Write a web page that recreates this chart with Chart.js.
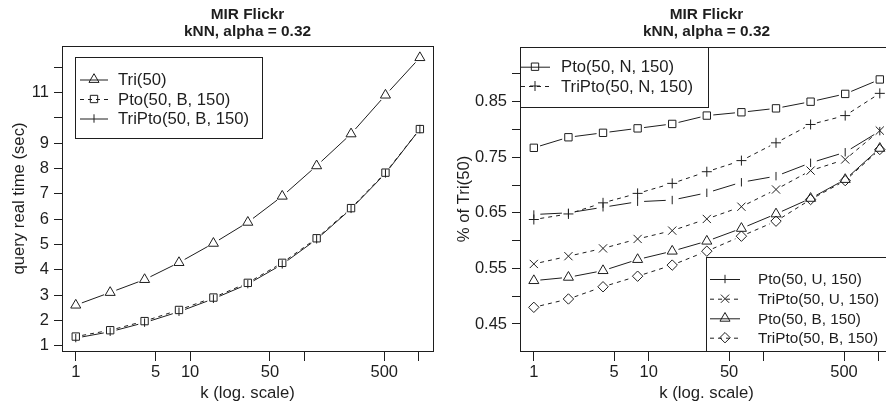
<!DOCTYPE html>
<html>
<head>
<meta charset="utf-8">
<script src="https://cdn.jsdelivr.net/npm/chart.js@4/dist/chart.umd.min.js"></script>
<style>
  html, body { margin: 0; padding: 0; background: #fff; overflow: hidden; width: 886px; height: 406px; }
  #leftPanel { position: absolute; left: 0; top: 0; width: 443px; height: 406px; }
  #rightPanel { position: absolute; left: 443px; top: 0; width: 480px; height: 406px; }
  canvas { display: block; }
</style>
</head>
<body>
<div id="leftPanel"><canvas id="timeChart" width="443" height="406"></canvas></div>
<div id="rightPanel"><canvas id="ratioChart" width="480" height="406"></canvas></div>
<script>
// ---- shared ----
const kValues = [1, 2, 4, 8, 16, 32, 64, 128, 256, 512, 1024];
const xTickValues = [1, 5, 10, 50, 100, 500, 1000];
const xTickLabels = ['1', '5', '10', '50', '', '500', ''];
const titleLines = ['MIR Flickr', 'kNN, alpha = 0.32'];
const xAxisTitle = 'k (log. scale)';

// ---- left panel: query time in seconds ----
const leftYAxisTitle = 'query real time (sec)';
const tri50Time = [2.60, 3.10, 3.61, 4.28, 5.04, 5.87, 6.90, 8.10, 9.36, 10.89, 12.37];
const ptoBTime = [1.36, 1.61, 1.97, 2.41, 2.90, 3.48, 4.27, 5.24, 6.43, 7.83, 9.55];
const triPtoBTime = [1.30, 1.55, 1.91, 2.34, 2.85, 3.43, 4.21, 5.20, 6.40, 7.80, 9.55];
const leftYTickValues = [1, 2, 3, 4, 5, 6, 7, 8, 9, 10, 11, 12];
const leftYTickLabels = ['1', '2', '3', '4', '5', '6', '7', '8', '9', '', '11', ''];

// ---- right panel: fraction of Tri(50) time ----
const rightYAxisTitle = '% of Tri(50)';
const ptoNRatio = [0.767, 0.786, 0.794, 0.802, 0.810, 0.825, 0.831, 0.838, 0.850, 0.864, 0.890];
const triPtoNRatio = [0.638, 0.648, 0.668, 0.685, 0.703, 0.724, 0.744, 0.776, 0.809, 0.825, 0.865];
const ptoURatio = [0.647, 0.650, 0.660, 0.670, 0.673, 0.686, 0.705, 0.716, 0.740, 0.759, 0.797];
const triPtoURatio = [0.558, 0.572, 0.586, 0.603, 0.618, 0.639, 0.661, 0.692, 0.726, 0.746, 0.798];
const ptoBRatio = [0.528, 0.534, 0.546, 0.566, 0.581, 0.599, 0.622, 0.648, 0.676, 0.710, 0.766];
const triPtoBRatio = [0.480, 0.495, 0.517, 0.536, 0.556, 0.581, 0.608, 0.635, 0.674, 0.708, 0.764];
const rightYTickValues = [0.45, 0.50, 0.55, 0.60, 0.65, 0.70, 0.75, 0.80, 0.85, 0.90];
const rightYTickLabels = ['0.45', '', '0.55', '', '0.65', '', '0.75', '', '0.85', ''];

const INK = '#1e1e1e';
const FONT = "'Liberation Sans', Arial, Helvetica, sans-serif";
const DASH = [4, 4];

// marker look for each series
const MARK = {
  triangle: { pointStyle: 'triangle', radius: 5.8, rotation: 0 },
  square:   { pointStyle: 'rect', radius: 5.2, rotation: 0 },
  plus:     { pointStyle: 'cross', radius: 5, rotation: 0 },
  bar:      { pointStyle: 'line', radius: 4.2, rotation: 90 },
  cross:    { pointStyle: 'crossRot', radius: 5.8, rotation: 0 },
  diamond:  { pointStyle: 'rectRot', radius: 5.2, rotation: 0 }
};

function series(label, values, mark, dashed) {
  const m = MARK[mark];
  return {
    label,
    data: kValues.map((k, i) => ({ x: k, y: values[i] })),
    showLine: false,
    borderColor: INK,
    backgroundColor: 'rgba(0,0,0,0)',
    pointStyle: m.pointStyle,
    pointRadius: m.radius,
    pointRotation: m.rotation,
    pointBorderWidth: 1,
    pointBorderColor: INK,
    pointBackgroundColor: 'rgba(0,0,0,0)',
    pointHoverRadius: m.radius,
    rDash: dashed ? DASH : []
  };
}

// Lines broken around each point (type "b" look), plot frame, titles and legends.
function makeDecor(spec) {
  const GAP = 6.5;
  return {
    id: 'rDecor',
    beforeDatasetsDraw(chart) {
      const ctx = chart.ctx;
      ctx.save();
      ctx.strokeStyle = INK;
      ctx.lineWidth = 1;
      chart.data.datasets.forEach((ds, di) => {
        const pts = chart.getDatasetMeta(di).data;
        ctx.setLineDash(ds.rDash || []);
        for (let i = 0; i < pts.length - 1; i++) {
          const a = pts[i], b = pts[i + 1];
          const dx = b.x - a.x, dy = b.y - a.y;
          const len = Math.hypot(dx, dy);
          if (len <= 2 * GAP) continue;
          const ux = dx / len, uy = dy / len;
          ctx.lineDashOffset = 0;
          ctx.beginPath();
          ctx.moveTo(a.x + ux * GAP, a.y + uy * GAP);
          ctx.lineTo(b.x - ux * GAP, b.y - uy * GAP);
          ctx.stroke();
        }
      });
      ctx.restore();
    },
    afterDraw(chart) {
      const ctx = chart.ctx;
      const area = chart.chartArea;
      ctx.save();
      // frame
      ctx.strokeStyle = INK;
      ctx.lineWidth = 1;
      ctx.setLineDash([]);
      ctx.strokeRect(Math.round(area.left) + 0.5, Math.round(area.top) + 0.5,
                     Math.round(area.right - area.left), Math.round(area.bottom - area.top));
      // two-line title centred over the plot
      ctx.fillStyle = INK;
      ctx.textAlign = 'center';
      ctx.textBaseline = 'middle';
      ctx.font = 'bold 15.4px ' + FONT;
      const cx = (area.left + area.right) / 2;
      titleLines.forEach((t, i) => ctx.fillText(t, cx, spec.titleY[i]));
      // legends
      spec.legends.forEach(lg => {
        const [x0, y0, x1, y1] = lg.box;
        ctx.fillStyle = '#fff';
        ctx.fillRect(x0, y0, x1 - x0, y1 - y0);
        ctx.strokeStyle = INK;
        ctx.setLineDash([]);
        ctx.strokeRect(x0 + 0.5, y0 + 0.5, x1 - x0, y1 - y0);
        lg.items.forEach((di, r) => {
          const ds = chart.data.datasets[di];
          const y = lg.rows[r];
          ctx.strokeStyle = INK;
          ctx.lineWidth = 1;
          ctx.setLineDash(ds.rDash || []);
          ctx.beginPath();
          ctx.moveTo(lg.lineX[0], y + 0.5);
          ctx.lineTo(lg.lineX[1], y + 0.5);
          ctx.stroke();
          ctx.setLineDash([]);
          ctx.fillStyle = 'rgba(0,0,0,0)';
          Chart.helpers.drawPoint(ctx, {
            pointStyle: ds.pointStyle,
            rotation: ds.pointRotation,
            radius: ds.pointRadius,
            borderWidth: 1
          }, lg.markX, y);
          ctx.fillStyle = INK;
          ctx.textAlign = 'left';
          ctx.textBaseline = 'middle';
          ctx.font = lg.font + 'px ' + FONT;
          ctx.fillText(ds.label, lg.textX, y + 1);
        });
      });
      ctx.restore();
    }
  };
}

function xScale() {
  return {
    type: 'logarithmic',
    min: 0.758,
    max: 1334,
    afterBuildTicks: s => { s.ticks = xTickValues.map(v => ({ value: v })); },
    afterFit: s => { s.height = 55; },
    grid: { drawOnChartArea: false, drawTicks: true, tickLength: 10, color: INK, lineWidth: 1 },
    border: { display: true, color: INK, width: 1 },
    ticks: {
      autoSkip: false, maxRotation: 0, padding: 2, color: INK,
      font: { family: FONT, size: 16.5 },
      callback: v => xTickLabels[xTickValues.indexOf(v)]
    },
    title: {
      display: true, text: xAxisTitle, color: INK,
      font: { family: FONT, size: 16.7 }, padding: { top: 0, bottom: 3 }
    }
  };
}

function yScale(min, max, values, labels, width, title, titleShift) {
  return {
    type: 'linear',
    min, max,
    afterBuildTicks: s => { s.ticks = values.map(v => ({ value: v })); },
    afterFit: s => { s.width = width; },
    grid: { drawOnChartArea: false, drawTicks: true, tickLength: 8, color: INK, lineWidth: 1 },
    border: { display: true, color: INK, width: 1 },
    ticks: {
      autoSkip: false, padding: 5, color: INK,
      font: { family: FONT, size: 16.5 },
      callback: v => { const i = values.findIndex(t => Math.abs(t - v) < 1e-9); return i < 0 ? '' : labels[i]; }
    },
    title: {
      display: true, text: title, color: INK,
      font: { family: FONT, size: 16.7 }, padding: { top: titleShift, bottom: 0 }
    }
  };
}

function baseOptions(padding, scales) {
  return {
    responsive: false,
    animation: false,
    devicePixelRatio: 1,
    layout: { padding },
    events: [],
    plugins: { legend: { display: false }, title: { display: false }, tooltip: { enabled: false } },
    scales
  };
}

// left chart
new Chart(document.getElementById('timeChart'), {
  type: 'line',
  data: {
    datasets: [
      series('Tri(50)', tri50Time, 'triangle', false),
      series('Pto(50, B, 150)', ptoBTime, 'square', true),
      series('TriPto(50, B, 150)', triPtoBTime, 'bar', false)
    ]
  },
  options: baseOptions({ top: 46, right: 10, bottom: 0, left: 0 }, {
    x: xScale(),
    y: yScale(0.79, 12.83, leftYTickValues, leftYTickLabels, 62, leftYAxisTitle, 9)
  }),
  plugins: [makeDecor({
    titleY: [15, 32],
    legends: [{
      box: [75, 57, 262, 138], rows: [79.5, 99, 118.5],
      lineX: [80, 108], markX: 94, textX: 118, font: 16.7, items: [0, 1, 2]
    }]
  })]
});

// right chart
new Chart(document.getElementById('ratioChart'), {
  type: 'line',
  data: {
    datasets: [
      series('Pto(50, N, 150)', ptoNRatio, 'square', false),
      series('TriPto(50, N, 150)', triPtoNRatio, 'plus', true),
      series('Pto(50, U, 150)', ptoURatio, 'bar', false),
      series('TriPto(50, U, 150)', triPtoURatio, 'cross', true),
      series('Pto(50, B, 150)', ptoBRatio, 'triangle', false),
      series('TriPto(50, B, 150)', triPtoBRatio, 'diamond', true)
    ]
  },
  options: baseOptions({ top: 47, right: 30, bottom: 0, left: 0 }, {
    x: xScale(),
    y: yScale(0.4014, 0.9484, rightYTickValues, rightYTickLabels, 77, rightYAxisTitle, 11)
  }),
  plugins: [makeDecor({
    titleY: [15, 32],
    legends: [
      { box: [77, 47, 265, 107], rows: [66.7, 86], lineX: [78, 107], markX: 92, textX: 118, font: 16.7, items: [0, 1] },
      { box: [263, 257, 450, 351], rows: [279, 298.7, 318.3, 337.7], lineX: [267, 297], markX: 282, textX: 315, font: 15.3, items: [2, 3, 4, 5] }
    ]
  })]
});
</script>
</body>
</html>
